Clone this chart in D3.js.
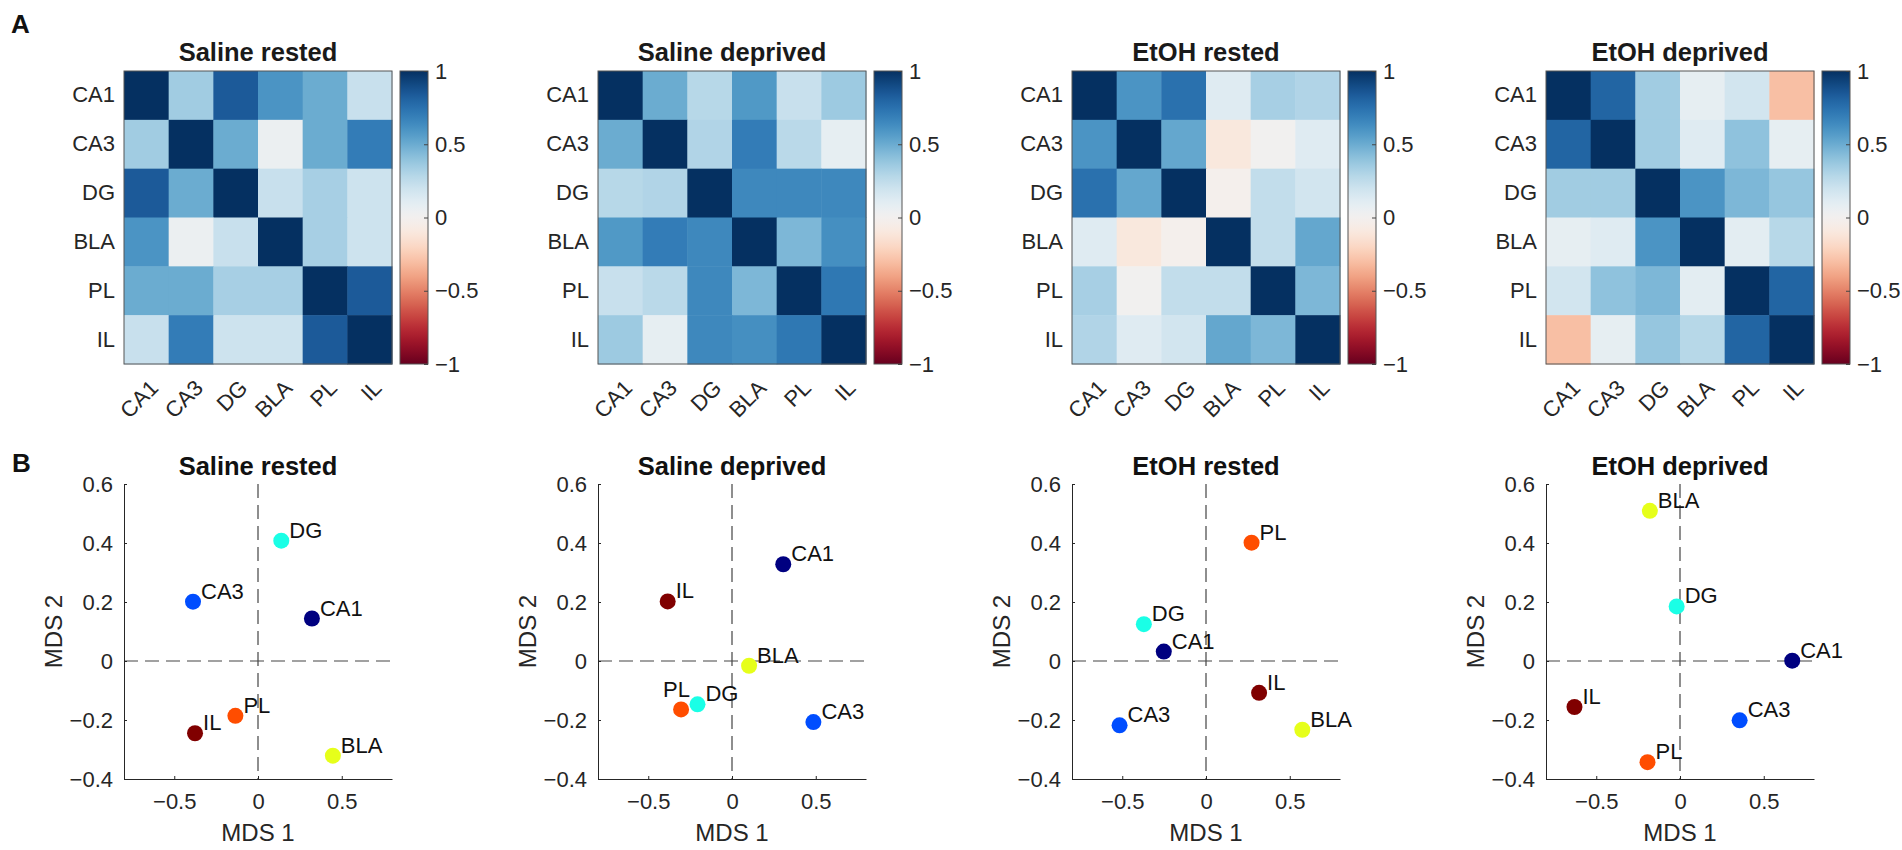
<!DOCTYPE html>
<html>
<head>
<meta charset="utf-8">
<script src="https://cdn.jsdelivr.net/npm/d3@7"></script>
<style>
  body { margin: 0; background: #fff; }
  svg text { font-family: "Liberation Sans", Arial, Helvetica, sans-serif; }
</style>
</head>
<body>
<div id="chart"></div>
<script>
// regions, in matrix / legend order
var regions = ["CA1", "CA3", "DG", "BLA", "PL", "IL"];
var conditions = ["Saline rested", "Saline deprived", "EtOH rested", "EtOH deprived"];

// A: correlation matrices (rows/cols = regions)
var corrSalineRested = [
  [1.00, 0.35, 0.84, 0.60, 0.50, 0.22],
  [0.35, 1.00, 0.50, 0.05, 0.50, 0.70],
  [0.84, 0.50, 1.00, 0.22, 0.33, 0.20],
  [0.60, 0.05, 0.22, 1.00, 0.33, 0.20],
  [0.50, 0.50, 0.33, 0.33, 1.00, 0.84],
  [0.22, 0.70, 0.20, 0.20, 0.84, 1.00]
];
var corrSalineDeprived = [
  [1.00, 0.50, 0.28, 0.58, 0.22, 0.36],
  [0.50, 1.00, 0.30, 0.70, 0.27, 0.08],
  [0.28, 0.30, 1.00, 0.65, 0.65, 0.65],
  [0.58, 0.70, 0.65, 1.00, 0.45, 0.62],
  [0.22, 0.27, 0.65, 0.45, 1.00, 0.72],
  [0.36, 0.08, 0.65, 0.62, 0.72, 1.00]
];
var corrEtohRested = [
  [1.00, 0.60, 0.75, 0.12, 0.33, 0.30],
  [0.60, 1.00, 0.52, -0.10, 0.01, 0.12],
  [0.75, 0.52, 1.00, -0.02, 0.24, 0.18],
  [0.12, -0.10, -0.02, 1.00, 0.24, 0.52],
  [0.33, 0.01, 0.24, 0.24, 1.00, 0.45],
  [0.30, 0.12, 0.18, 0.52, 0.45, 1.00]
];
var corrEtohDeprived = [
  [1.00, 0.80, 0.35, 0.08, 0.18, -0.30],
  [0.80, 1.00, 0.35, 0.12, 0.40, 0.08],
  [0.35, 0.35, 1.00, 0.60, 0.45, 0.38],
  [0.08, 0.12, 0.60, 1.00, 0.10, 0.28],
  [0.18, 0.40, 0.45, 0.10, 1.00, 0.80],
  [-0.30, 0.08, 0.38, 0.28, 0.80, 1.00]
];
var colorbarTicks = [-1, -0.5, 0, 0.5, 1];

// B: MDS coordinates [MDS 1, MDS 2] per region
var mdsSalineRested = [[0.322, 0.144], [-0.388, 0.201], [0.139, 0.408], [0.447, -0.321], [-0.135, -0.186], [-0.376, -0.245]];
var mdsSalineDeprived = [[0.306, 0.328], [0.486, -0.207], [-0.206, -0.147], [0.102, -0.016], [-0.304, -0.164], [-0.384, 0.202]];
var mdsEtohRested = [[-0.252, 0.032], [-0.516, -0.218], [-0.371, 0.125], [0.575, -0.233], [0.272, 0.401], [0.317, -0.108]];
var mdsEtohDeprived = [[0.670, 0.001], [0.356, -0.201], [-0.020, 0.185], [-0.180, 0.509], [-0.194, -0.343], [-0.630, -0.156]];
var mdsXTicks = [-0.5, 0, 0.5];
var mdsYTicks = [-0.4, -0.2, 0, 0.2, 0.4, 0.6];

var regionColors = ["#000080", "#004dff", "#1affe6", "#e6ff1a", "#ff4d00", "#800000"];

var corrMats = [corrSalineRested, corrSalineDeprived, corrEtohRested, corrEtohDeprived];
var mdsSets = [mdsSalineRested, mdsSalineDeprived, mdsEtohRested, mdsEtohDeprived];

// label placement: default up-right of the marker; a few moved by hand
var labelShift = {"1-PL": [-18, -12]};

var W = 1902, H = 850;
var svg = d3.select("#chart").append("svg")
  .attr("width", W).attr("height", H)
  .style("display", "block");

var panelLeft = [124, 598, 1072, 1546];
var axW = 268;
var hmTop = 71, hmH = 293;
var scTop = 484, scH = 295;
var ink = "#262626";

var colorOf = function(v){ return d3.interpolateRdBu((v + 1) / 2); };

// colorbar gradient
var grad = svg.append("defs").append("linearGradient")
  .attr("id", "rdbu").attr("x1", 0).attr("y1", 1).attr("x2", 0).attr("y2", 0);
d3.range(0, 1.0001, 0.02).forEach(function(t){
  grad.append("stop").attr("offset", t).attr("stop-color", d3.interpolateRdBu(t));
});

function styleAxis(g, size){
  g.attr("font-family", null).attr("font-size", null);
  g.selectAll("text").style("font-size", size + "px").attr("fill", ink);
  g.selectAll("line").attr("stroke", ink);
  g.selectAll("path").attr("stroke", ink);
}

// panel letters
svg.append("text").attr("x", 11).attr("y", 33).text("A")
  .style("font-size", "26px").style("font-weight", "bold").attr("fill", "#111");
svg.append("text").attr("x", 12).attr("y", 472).text("B")
  .style("font-size", "26px").style("font-weight", "bold").attr("fill", "#111");

conditions.forEach(function(cond, k){
  var left = panelLeft[k];

  // ---------- A: heatmap ----------
  var g = svg.append("g").attr("transform", "translate(" + left + "," + hmTop + ")");
  var xb = d3.scaleBand().domain(regions).range([0, axW]);
  var yb = d3.scaleBand().domain(regions).range([0, hmH]);
  var cells = [];
  corrMats[k].forEach(function(row, i){
    row.forEach(function(v, j){ cells.push({r: regions[i], c: regions[j], v: v}); });
  });
  g.selectAll("rect.cell").data(cells).enter().append("rect")
    .attr("class", "cell")
    .attr("x", function(d){ return xb(d.c); })
    .attr("y", function(d){ return yb(d.r); })
    .attr("width", xb.bandwidth() + 0.5)
    .attr("height", yb.bandwidth() + 0.5)
    .attr("fill", function(d){ return colorOf(d.v); });
  g.append("rect").attr("width", axW).attr("height", hmH)
    .attr("fill", "none").attr("stroke", "#555").attr("stroke-width", 1);

  var yl = g.append("g").call(d3.axisLeft(yb).tickSize(0).tickPadding(9));
  yl.select(".domain").remove();
  styleAxis(yl, 22);

  var xl = g.append("g").attr("transform", "translate(0," + hmH + ")")
    .call(d3.axisBottom(xb).tickSize(0).tickPadding(0));
  xl.select(".domain").remove();
  styleAxis(xl, 22);
  xl.selectAll("text")
    .attr("y", 0).attr("dy", null)
    .attr("text-anchor", "end")
    .attr("dominant-baseline", "central")
    .attr("transform", "translate(8,20) rotate(-45)");

  g.append("text").attr("x", axW / 2).attr("y", -10)
    .attr("text-anchor", "middle").text(cond)
    .style("font-size", "25.5px").style("font-weight", "bold").attr("fill", "#1a1a1a");

  // colorbar
  var cbx = axW + 8, cbw = 28;
  var cy = d3.scaleLinear().domain([-1, 1]).range([hmH, 0]);
  var cb = g.append("g").attr("transform", "translate(" + cbx + ",0)");
  cb.append("rect").attr("width", cbw).attr("height", hmH)
    .attr("fill", "url(#rdbu)").attr("stroke", "#555").attr("stroke-width", 1);
  var cba = cb.append("g").attr("transform", "translate(" + cbw + ",0)")
    .call(d3.axisRight(cy).tickValues(colorbarTicks).tickSizeInner(-4).tickSizeOuter(0)
      .tickPadding(7).tickFormat(d3.format("")));
  cba.select(".domain").remove();
  styleAxis(cba, 22);
  cba.selectAll("line").attr("stroke", "#444");

  // ---------- B: MDS scatter ----------
  var s = svg.append("g").attr("transform", "translate(" + left + "," + scTop + ")");
  var x = d3.scaleLinear().domain([-0.8, 0.8]).range([0, axW]);
  var y = d3.scaleLinear().domain([-0.4, 0.6]).range([scH, 0]);

  s.append("line").attr("x1", x(0)).attr("x2", x(0)).attr("y1", 0).attr("y2", scH)
    .attr("stroke", "#444").attr("stroke-width", 1.2).attr("stroke-dasharray", "14,7");
  s.append("line").attr("x1", 0).attr("x2", axW).attr("y1", y(0)).attr("y2", y(0))
    .attr("stroke", "#444").attr("stroke-width", 1.2).attr("stroke-dasharray", "14,7");

  var ax = s.append("g").attr("transform", "translate(0," + scH + ")")
    .call(d3.axisBottom(x).tickValues(mdsXTicks).tickSizeInner(-3).tickSizeOuter(0)
      .tickPadding(14).tickFormat(d3.format("")));
  styleAxis(ax, 22);
  var ay = s.append("g")
    .call(d3.axisLeft(y).tickValues(mdsYTicks).tickSizeInner(-3).tickSizeOuter(0)
      .tickPadding(11).tickFormat(d3.format("")));
  styleAxis(ay, 22);

  var pts = mdsSets[k].map(function(p, i){ return {name: regions[i], x: p[0], y: p[1], c: regionColors[i]}; });
  s.selectAll("circle.pt").data(pts).enter().append("circle")
    .attr("class", "pt")
    .attr("cx", function(d){ return x(d.x); })
    .attr("cy", function(d){ return y(d.y); })
    .attr("r", 8)
    .attr("fill", function(d){ return d.c; });
  var shift = function(d){ return labelShift[k + "-" + d.name] || [8, -3]; };
  s.selectAll("text.lbl").data(pts).enter().append("text")
    .attr("class", "lbl")
    .attr("x", function(d){ return x(d.x) + shift(d)[0]; })
    .attr("y", function(d){ return y(d.y) + shift(d)[1]; })
    .text(function(d){ return d.name; })
    .style("font-size", "22px").attr("fill", "#111");

  s.append("text").attr("x", axW / 2).attr("y", -9)
    .attr("text-anchor", "middle").text(cond)
    .style("font-size", "25.5px").style("font-weight", "bold").attr("fill", "#111");
  s.append("text").attr("x", axW / 2).attr("y", scH + 62)
    .attr("text-anchor", "middle").text("MDS 1")
    .style("font-size", "24px").attr("fill", ink);
  s.append("text")
    .attr("transform", "translate(-62," + (scH / 2) + ") rotate(-90)")
    .attr("text-anchor", "middle").text("MDS 2")
    .style("font-size", "24px").attr("fill", ink);
});
</script>
</body>
</html>
